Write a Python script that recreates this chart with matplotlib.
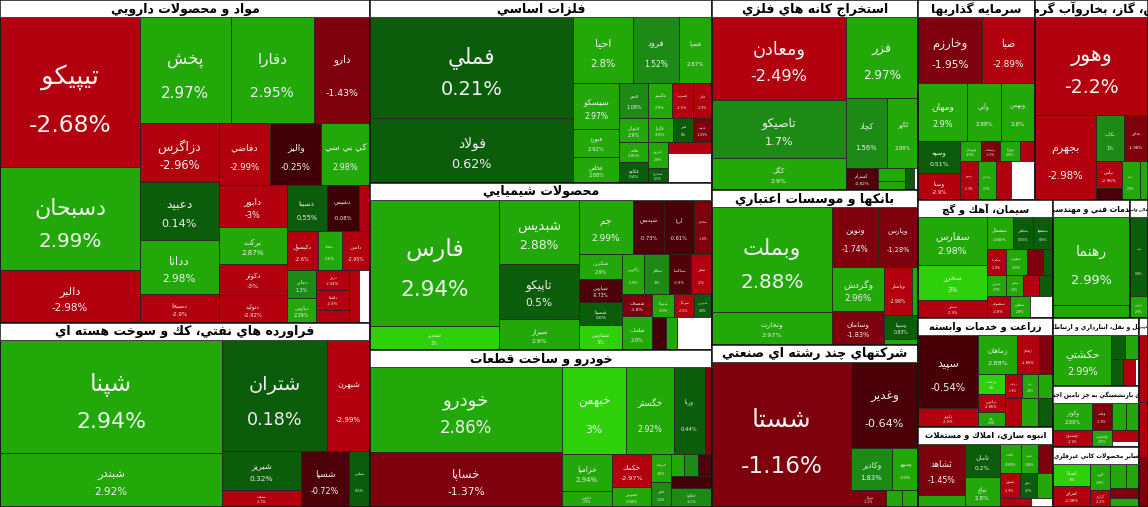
import matplotlib
matplotlib.use('Agg')
import matplotlib.pyplot as plt
from matplotlib.patches import Rectangle
from matplotlib.transforms import Bbox, TransformedBbox
import numpy as np

plt.rcParams['font.family'] = ['DejaVu Sans']

# ---- data: (symbol, change %, size) per sector --------------------------
pharma = [('تيپيكو', -2.68, 21000), ('دسبحان', 2.99, 14420), ('دالبر', -2.98, 7420),
          ('پخش', 2.97, 9630), ('دفارا', 2.95, 8774), ('دارو', -1.43, 5992),
          ('دزاگرس', -2.96, 4661), ('دعبيد', 0.14, 4503), ('ددانا', 2.98, 4266), ('دسبحا', -2.9, 2291),
          ('دفاضي', -2.99, 3213), ('والبر', -0.25, 3150), ('كي بي سي', 2.98, 3024),
          ('دابور', -3, 2835), ('بركت', 2.87, 2520), ('دكوثر', -3, 2142), ('دتوليد', -2.92, 1890),
          ('دسينا', 0.55, 1820), ('دشيمي', -0.08, 1456), ('دلر', -2.9, 520),
          ('دكپسول', -2.6, 1215), ('دتماد', 2.5, 945), ('دامين', -2.95, 1125),
          ('دجابر', 1.3, 810), ('دپارس', 2.39, 750),
          ('دروز', -2.94, 627), ('دلقما', -2.9, 660), ('ديران', -2.85, 429),
          ('داسوه', -2.7, 500), ('', None, 600)]
petroleum = [('شپنا', 2.94, 24864), ('شبندر', 2.92, 11766), ('شتران', 0.18, 11550), ('شبهرن', -2.99, 4730),
             ('شبريز', 0.32, 3002), ('شنفت', -2.5, 1343), ('شسپا', -0.72, 2640), ('شپاس', 0.6, 1155)]
metals = [('فملي', 0.21, 20300), ('فولاد', 0.62, 13195),
          ('احيا', 2.8, 3900), ('فرود', 1.52, 2990), ('فسپا', 2.87, 2145),
          ('سيسكو', 2.97, 2115), ('فنورد', 2.92, 1269), ('فخاس', 2.88, 1175),
          ('فجر', 1.08, 1015), ('فگستر', 2.9, 805), ('فسرب', -2.5, 735), ('فاذر', -2.9, 665),
          ('فنوال', 2.9, 700), ('فلامي', 2.85, 560), ('فكاوه', 0.4, 600),
          ('فايرا', 2.9, 600), ('فبير', 0.0, 500), ('فلوله', -1.83, 450),
          ('فزرين', 2.8, 500), ('فسازان', 0.5, 300),
          ('فجام', -2.5, 500), ('', None, 1304)]
chemicals = [('فارس', 2.94, 15996), ('شغدير', 3, 3096),
             ('شبديس', 2.88, 5040), ('تاپيكو', 0.5, 4320), ('شيراز', 2.9, 2480),
             ('جم', 2.99, 2862), ('شپديس', -0.73, 1643), ('آريا', -0.61, 1590), ('شخارك', -1.8, 954),
             ('شكربن', 2.9, 1075), ('شپارس', -0.73, 989), ('شسينا', 0.6, 946), ('شفارس', 3, 1075),
             ('زاگرس', 2.9, 880), ('شكلر', 1.0, 960), ('شپاكسا', -0.9, 880), ('شفن', -2.0, 840),
             ('شصدف', -1.8, 660), ('شلعاب', 2.9, 990),
             ('شتوكا', 2.9, 500), ('شرنگي', -2.6, 450), ('شدوص', 0.8, 420),
             ('شيپس', -0.5, 450), ('شجم', 2.5, 350), ('', None, 1120)]
auto = [('خودرو', 2.86, 16128), ('خساپا', -1.37, 10368),
        ('خبهمن', 3, 5568), ('خگستر', 2.92, 4089), ('ورنا', 0.44, 2697), ('خمحور', -1.5, 600),
        ('خزاميا', 2.94, 1785), ('خپارس', 2.9, 816),
        ('خكمك', -2.97, 1280), ('خموتور', 2.58, 760),
        ('خريخت', 2.8, 540), ('خفنر', 1.4, 480),
        ('خشرق', 2.9, 280), ('خچرخش', 1.2, 280), ('خنصير', -0.8, 300),
        ('خلنت', -0.4, 500), ('خكاوه', 1.1, 771)]
mining = [('ومعادن', -2.49, 11122), ('تاصيكو', 1.7, 7772), ('كگل', 2.9, 4288),
          ('فزر', 2.97, 5832), ('كچاد', 1.56, 2870), ('كگهر', 2.98, 2170),
          ('كسرام', -0.82, 704), ('كمنگنز', 2.9, 350), ('كنور', 2.9, 250),
          ('كروي', 0.7, 200), ('', None, 90)]
banks = [('وبملت', 2.88, 12480), ('وتجارت', 2.97, 3960),
         ('ونوين', -1.74, 2714), ('وپارس', -1.28, 2360),
         ('وگردش', 2.96, 2304), ('وسامان', -1.83, 1776),
         ('وپاسار', -2.99, 1350), ('ودي', 2.9, 270),
         ('وسينا', 0.83, 800), ('وكار', 2.9, 190)]
multi = [('شستا', -1.16, 19043), ('وغدير', -0.64, 5427),
         ('وكادير', 1.83, 1640), ('وسپهر', 2.9, 1040),
         ('ونيكي', -1.2, 560), ('وصنعت', 2.9, 250), ('وتوسم', 2.8, 250)]
invest = [('وخارزم', -1.95, 4224), ('صبا', -2.89, 3498),
          ('ومهان', 2.9, 2842), ('وآتي', 2.88, 1972), ('وبهمن', 2.8, 1972),
          ('وسپه', 0.51, 1344), ('وصنا', -2.9, 1134),
          ('وبوعلي', 2.9, 420), ('وسكاب', -1.5, 380), ('وتوكا', 2.8, 400), ('وسنا', -2.9, 300),
          ('ونيرو', -2.9, 700),
          ('واعتبار', 2.7, 700), ('ومشان', -2.9, 600), ('', None, 923)]
power = [('وهور', -2.2, 11074), ('بجهرم', -2.98, 5185),
         ('بكاب', 1.0, 1300), ('بخاور', -1.98, 1100),
         ('بپاس', -2.96, 700), ('بسويچ', -0.5, 300),
         ('بمپنا', 2.9, 700), ('بترانس', 2.2, 320)]
cement = [('سفارس', 2.98, 3312), ('سخزر', 3, 2346), ('سدور', -2.9, 1242),
          ('سشمال', 2.88, 832), ('سخاش', 0.55, 640), ('سصفها', 0.6, 640),
          ('سكرما', -2.9, 475), ('سغرب', 2.9, 525), ('سهرمز', -1.2, 400), ('سبجنو', 0.5, 250),
          ('ستران', 2.7, 400), ('سخوز', 2.9, 350), ('سيتا', -2.7, 330), ('سبهان', 0.4, 300),
          ('سصوفي', -2.8, 500), ('سقاين', 2.8, 450), ('', None, 500)]
engineering = [('رهنما', 2.99, 6688), ('رتكو', 2.9, 1012)]
financial = [('اميد', 0.8, 1400), ('ارزش', 2.9, 400)]
agri = [('سپيد', -0.54, 4500), ('زكوثر', -2.9, 1140),
        ('زماهان', 2.88, 1560), ('زقيام', -2.86, 880), ('زشريف', -1.2, 560),
        ('زدشت', 3, 540), ('زپارس', -2.86, 513), ('زفكا', 2.9, 405),
        ('زملارد', -2.8, 400), ('زبينا', 2.8, 400), ('زگلدشت', 2.7, 350),
        ('زنجان', -2.5, 480), ('زاگرس', 2.9, 500), ('زشگزا', 0.3, 462)]
housing = [('ثشاهد', -1.45, 2444), ('ثنوسا', 2.9, 564),
           ('ثامان', 0.2, 1190), ('ثباغ', 2.8, 1050),
           ('ثاخت', 2.88, 609), ('ثعمرا', 2.88, 493), ('ثتران', -1.3, 435),
           ('ثشرق', -2.9, 500), ('ثنظام', 0.7, 450), ('ثاصفا', 2.6, 400),
           ('ثالوند', -2.8, 300), ('', None, 205)]
transport = [('حكشتي', 2.99, 3100), ('حپارسا', 0.9, 350), ('حتوكا', 2.9, 350),
             ('حفارس', 0.5, 320), ('حسينا', -2.9, 320), ('', None, 118)]
pension = [('وكوثر', 2.88, 1014), ('وصندوق', -2.9, 663), ('وملت', -1.6, 520), ('ولتجارت', 2.9, 340),
           ('وبانك', 2.9, 350), ('وكرمان', 2.6, 350), ('وملل', -2.9, 300), ('', None, 160)]
nonmetal = [('كساپا', 3, 858), ('كفرآور', -2.98, 800), ('كلوند', 2.9, 520), ('كرازي', -2.2, 340),
            ('كسرا', 2.9, 400), ('كچيني', 2.6, 340), ('كفپارس', -1.5, 300), ('كخاك', 2.9, 260)]
machinery = [('تاپكيش', -2.9, 600), ('تكمبا', -2.6, 500), ('تپمپي', -1.5, 448)]

sector_titles = ['مواد و محصولات دارويي', 'فراورده هاي نفتي، كك و سوخت هسته اي', 'فلزات اساسي',
                 'محصولات شيميايي', 'خودرو و ساخت قطعات', 'استخراج كانه هاي فلزي',
                 'بانكها و موسسات اعتباري', 'شركتهاي چند رشته اي صنعتي', 'سرمايه گذاريها',
                 'عرضه برق، گاز، بخاروآب گرم', 'سيمان، آهك و گچ', 'خدمات فني و مهندسي',
                 'فعاليتهاي كمكي به نهادهاي مالي واسط', 'زراعت و خدمات وابسته',
                 'انبوه سازي، املاك و مستغلات', 'حمل و نقل، انبارداري و ارتباطات',
                 'صندوق بازنشستگي به جز تامين اجتماعي', 'ساير محصولات كاني غيرفلزي',
                 'ماشين آلات و تجهيزات']
sector_cells = [pharma, petroleum, metals, chemicals, auto, mining, banks, multi, invest,
                power, cement, engineering, financial, agri, housing, transport, pension,
                nonmetal, machinery]
sector_sizes = [119510, 68080, 62586, 57114, 53694, 39140, 31930, 33372, 23400,
                22600, 15930, 9086, 2124, 14715, 10800, 5848, 5246, 5160, 1701]

# row breaks of the squarified layout (n = auto side, v = column, h = row)
top_rows = '2 3 3v 2 3 2 3v 1'
sector_rows = ['3 3 4 3 4 3 3 2 3 2', '2 2 2 1 1', '2 3 3 4 3 3 2 2', '2 3 4 4 4 2 3h 3h',
               '2 4h 2 2 2 3 2', '3 1 2 1 2 2', '2 2 2 2 2', '1 1 2h 1 1 1',
               '2 3h 2 4h 1 3h', '1 1 2 2 2', '3 3 4h 4h 3h', '1 1', '1 1',
               '2 3 3 3 3h', '2 2 3 3h 2h', '1 2 3h', '2 2 2 2', '2 2 2 2', '1 1 1']
left_titles = [9, 12, 18]   # titles running off the cropped edge

W, H = 1148, 507
HDR = 17

# ---- arabic shaping (matplotlib has no bidi/shaping) --------------------
FORMS = {
    '\u0621': ('\ufe80', '\ufe80', None, None), '\u0622': ('\ufe81', '\ufe82', None, None),
    '\u0623': ('\ufe83', '\ufe84', None, None), '\u0624': ('\ufe85', '\ufe86', None, None),
    '\u0625': ('\ufe87', '\ufe88', None, None), '\u0626': ('\ufe89', '\ufe8a', '\ufe8b', '\ufe8c'),
    '\u0627': ('\ufe8d', '\ufe8e', None, None), '\u0628': ('\ufe8f', '\ufe90', '\ufe91', '\ufe92'),
    '\u0629': ('\ufe93', '\ufe94', None, None), '\u062a': ('\ufe95', '\ufe96', '\ufe97', '\ufe98'),
    '\u062b': ('\ufe99', '\ufe9a', '\ufe9b', '\ufe9c'), '\u062c': ('\ufe9d', '\ufe9e', '\ufe9f', '\ufea0'),
    '\u062d': ('\ufea1', '\ufea2', '\ufea3', '\ufea4'), '\u062e': ('\ufea5', '\ufea6', '\ufea7', '\ufea8'),
    '\u062f': ('\ufea9', '\ufeaa', None, None), '\u0630': ('\ufeab', '\ufeac', None, None),
    '\u0631': ('\ufead', '\ufeae', None, None), '\u0632': ('\ufeaf', '\ufeb0', None, None),
    '\u0633': ('\ufeb1', '\ufeb2', '\ufeb3', '\ufeb4'), '\u0634': ('\ufeb5', '\ufeb6', '\ufeb7', '\ufeb8'),
    '\u0635': ('\ufeb9', '\ufeba', '\ufebb', '\ufebc'), '\u0636': ('\ufebd', '\ufebe', '\ufebf', '\ufec0'),
    '\u0637': ('\ufec1', '\ufec2', '\ufec3', '\ufec4'), '\u0638': ('\ufec5', '\ufec6', '\ufec7', '\ufec8'),
    '\u0639': ('\ufec9', '\ufeca', '\ufecb', '\ufecc'), '\u063a': ('\ufecd', '\ufece', '\ufecf', '\ufed0'),
    '\u0641': ('\ufed1', '\ufed2', '\ufed3', '\ufed4'), '\u0642': ('\ufed5', '\ufed6', '\ufed7', '\ufed8'),
    '\u0643': ('\ufed9', '\ufeda', '\ufedb', '\ufedc'), '\u0644': ('\ufedd', '\ufede', '\ufedf', '\ufee0'),
    '\u0645': ('\ufee1', '\ufee2', '\ufee3', '\ufee4'), '\u0646': ('\ufee5', '\ufee6', '\ufee7', '\ufee8'),
    '\u0647': ('\ufee9', '\ufeea', '\ufeeb', '\ufeec'), '\u0648': ('\ufeed', '\ufeee', None, None),
    '\u0649': ('\ufeef', '\ufef0', None, None), '\u064a': ('\ufef1', '\ufef2', '\ufef3', '\ufef4'),
    '\u067e': ('\ufb56', '\ufb57', '\ufb58', '\ufb59'), '\u0686': ('\ufb7a', '\ufb7b', '\ufb7c', '\ufb7d'),
    '\u0698': ('\ufb8a', '\ufb8b', None, None), '\u06a9': ('\ufb8e', '\ufb8f', '\ufb90', '\ufb91'),
    '\u06af': ('\ufb92', '\ufb93', '\ufb94', '\ufb95'), '\u06cc': ('\ufbfc', '\ufbfd', '\ufbfe', '\ufbff'),
}
LAMALEF = {'\u0627': ('\ufefb', '\ufefc'), '\u0622': ('\ufef5', '\ufef6'),
           '\u0623': ('\ufef7', '\ufef8'), '\u0625': ('\ufef9', '\ufefa')}


def shape(text):
    items = []
    i = 0
    while i < len(text):
        c = text[i]
        if c == '\u0644' and i + 1 < len(text) and text[i + 1] in LAMALEF:
            items.append(LAMALEF[text[i + 1]] + (None, None))
            i += 2
        else:
            items.append(FORMS.get(c, c))
            i += 1
    out = []
    for k, f in enumerate(items):
        if isinstance(f, str):
            out.append(f)
            continue
        prev = items[k - 1] if k > 0 else None
        nxt = items[k + 1] if k + 1 < len(items) else None
        jp = isinstance(prev, tuple) and prev[2] is not None
        jn = f[2] is not None and isinstance(nxt, tuple)
        if jp and jn:
            out.append(f[3])
        elif jp:
            out.append(f[1])
        elif jn:
            out.append(f[2])
        else:
            out.append(f[0])
    return ''.join(reversed(out))


def layout(values, rows, x, y, w, h):
    rects = []
    i = 0
    tokens = rows.split()
    while i < len(values):
        if tokens:
            tok = tokens.pop(0)
            orient = tok[-1] if tok[-1] in 'vh' else 'a'
            count = int(tok.rstrip('vh'))
        else:
            count, orient = len(values) - i, 'a'
        row = values[i:i + count]
        s = sum(row)
        rest = sum(values[i:])
        if orient == 'a':
            orient = 'v' if w >= h else 'h'
        if orient == 'v':
            cw = w * s / rest
            yy = y
            for v in row:
                ch = h * v / s
                rects.append((x, yy, cw, ch))
                yy += ch
            x += cw
            w -= cw
        else:
            rh = h * s / rest
            xx = x
            for v in row:
                rw = w * v / s
                rects.append((xx, y, rw, rh))
                xx += rw
            y += rh
            h -= rh
        i += count
    return rects


def cell_color(p):
    # stepped colour scale of the market map
    if p is None:
        return '#ffffff'
    if p >= 3:
        return '#2ed00a'
    if p >= 2:
        return '#22a808'
    if p >= 1:
        return '#1c8a14'
    if p >= 0:
        return '#0b5c0b'
    if p > -1:
        f = -p
        a, b = np.array([58, 0, 5]), np.array([84, 0, 9])
        return tuple((a + f * (b - a)) / 255)
    if p > -2:
        return '#7e000d'
    return '#b3000f'


def pct_text(p):
    return ('%.2f' % p).rstrip('0').rstrip('.') + '%'


fig = plt.figure(figsize=(11.48, 5.07), dpi=100)
ax = fig.add_axes([0, 0, 1, 1])
ax.set_xlim(0, W)
ax.set_ylim(H, 0)
ax.axis('off')

sectors = layout(sector_sizes, top_rows, 0, 0, W, H)

for si, (sx, sy, sw, sh) in enumerate(sectors):
    clip = TransformedBbox(Bbox([[sx, sy], [sx + sw, sy + sh]]), ax.transData)
    ax.add_patch(Rectangle((sx, sy), sw, sh, facecolor='white', edgecolor='none'))
    fs = min(9.0, 0.058 * np.sqrt(sw * sh))
    if si in left_titles:
        t = ax.text(sx - 4, sy + HDR / 2 + 0.5, shape(sector_titles[si]), ha='left', va='center',
                    fontsize=fs, fontweight='bold', color='black')
    else:
        t = ax.text(sx + sw / 2, sy + HDR / 2 + 0.5, shape(sector_titles[si]), ha='center', va='center',
                    fontsize=fs, fontweight='bold', color='black')
    t.set_clip_box(clip)
    t.set_clip_on(True)

    cells = sector_cells[si]
    sizes = [c[2] for c in cells]
    rects = layout(sizes, sector_rows[si], sx, sy + HDR, sw, sh - HDR)
    for (name, p, _), (cx, cy, cw, ch) in zip(cells, rects):
        ax.add_patch(Rectangle((cx, cy), cw, ch, facecolor=cell_color(p),
                               edgecolor='#262626', linewidth=0.6))
        if p is None:
            continue
        fp = min(cw * 0.12, ch * 0.14, 18)
        if fp < 2.0:
            continue
        cb = TransformedBbox(Bbox([[cx, cy], [cx + cw, cy + ch]]), ax.transData)
        t1 = ax.text(cx + cw / 2, cy + ch * 0.4, shape(name), ha='center', va='center',
                     fontsize=fp * 1.1, color='#f0f0f0')
        t2 = ax.text(cx + cw / 2, cy + ch * 0.72, pct_text(p), ha='center', va='center',
                     fontsize=fp, color='#f0f0f0')
        for t in (t1, t2):
            t.set_clip_box(cb)
            t.set_clip_on(True)

    ax.add_patch(Rectangle((sx, sy), sw, sh, facecolor='none', edgecolor='#111111', linewidth=1.1))
    ax.plot([sx, sx + sw], [sy + HDR, sy + HDR], color='#444444', linewidth=0.6)

fig.savefig('out.png', dpi=100)
